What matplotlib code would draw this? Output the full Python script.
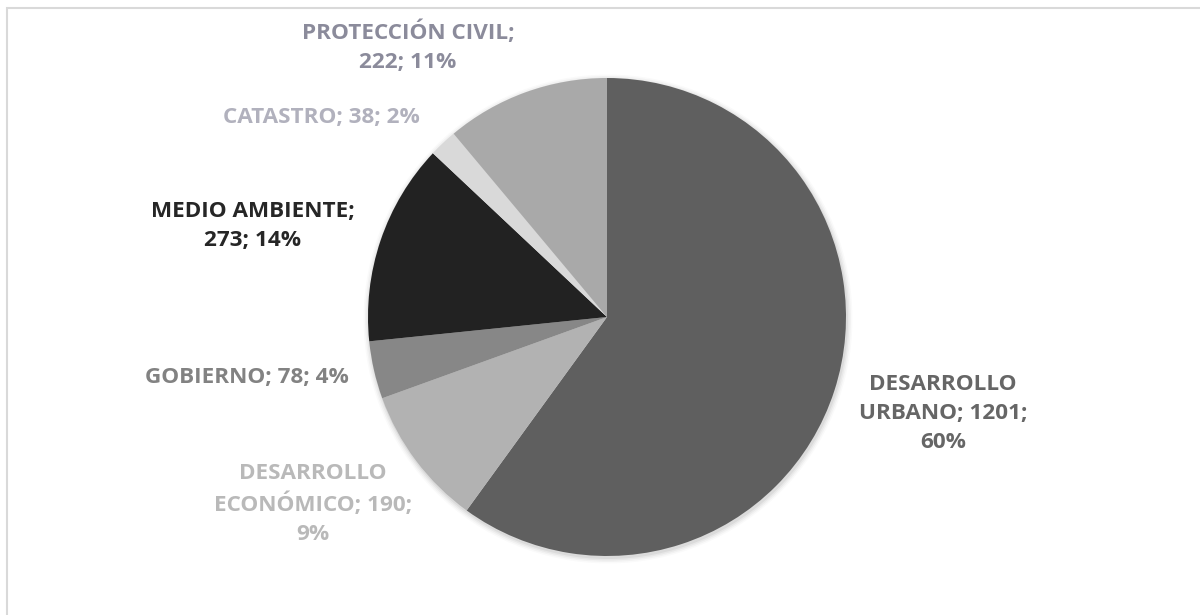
import matplotlib
matplotlib.use("Agg")
import matplotlib.pyplot as plt
from matplotlib.patches import Rectangle, Circle

categories = ["DESARROLLO URBANO", "DESARROLLO ECONÓMICO", "GOBIERNO",
              "MEDIO AMBIENTE", "CATASTRO", "PROTECCIÓN CIVIL"]
values = [1201, 190, 78, 273, 38, 222]
slice_colors = ["#5f5f5f", "#b2b2b2", "#878787", "#222222", "#d9d9d9", "#a9a9a9"]
label_colors = ["#666666", "#b9b9b9", "#828282", "#262626", "#b1b1bd", "#8b8b9b"]
# where each label wraps (Excel-like wrapping)
label_templates = [
    "DESARROLLO\nURBANO; {v};\n{p}%",
    "DESARROLLO\nECONÓMICO; {v};\n{p}%",
    "GOBIERNO; {v}; {p}%",
    "MEDIO AMBIENTE;\n{v}; {p}%",
    "CATASTRO; {v}; {p}%",
    "PROTECCIÓN CIVIL;\n{v}; {p}%",
]
# label centres in pixel coordinates (x, y from top)
label_pos = [(943, 413), (313, 504), (247, 378), (253, 226), (321, 117), (408, 47)]

W, H = 1200, 615
fig = plt.figure(figsize=(W / 100, H / 100), dpi=100)
ax = fig.add_axes([0, 0, 1, 1])
ax.set_xlim(0, W)
ax.set_ylim(0, H)
ax.set_aspect("equal")
ax.axis("off")

# chart border
ax.add_patch(Rectangle((7, -10), W + 20, H - 8 + 10, fill=False,
                       edgecolor="#d9d9d9", linewidth=1.5))

cx, cy, r = 607, H - 317, 239
# soft shadow
for i, a in enumerate([0.05, 0.04, 0.03, 0.02]):
    ax.add_patch(Circle((cx + 1, cy - 2), r + 1 + i * 1.5, color="black",
                        alpha=a, linewidth=0, zorder=1))

ax.pie(values, colors=slice_colors, startangle=90, counterclock=False,
       center=(cx, cy), radius=r, frame=True,
       wedgeprops=dict(linewidth=0, zorder=2))
ax.set_xlim(0, W)
ax.set_ylim(0, H)
ax.axis("off")

total = sum(values)
for tmpl, v, col, (px, py) in zip(label_templates, values, label_colors, label_pos):
    p = round(100 * v / total)
    ax.text(px, H - py, tmpl.format(v=v, p=p), ha="center", va="center",
            color=col, fontsize=16.2, fontweight="bold", family="Open Sans",
            linespacing=1.5, zorder=5)

fig.savefig("out.png", dpi=100, facecolor="white")
